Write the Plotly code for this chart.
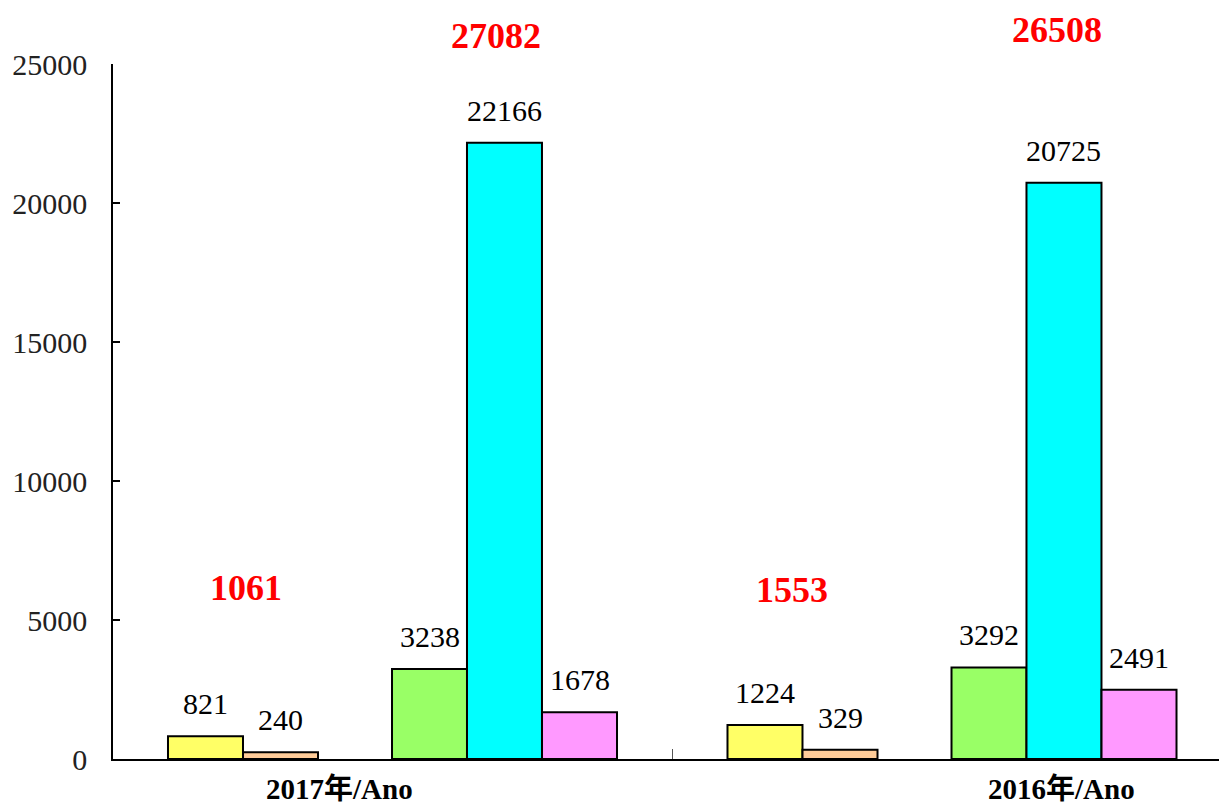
import plotly.graph_objects as go

# ---------------- data ----------------
years = ["2017年/Ano", "2016年/Ano"]
yellow_vals = [821, 1224]
orange_vals = [240, 329]
green_vals = [3238, 3292]
cyan_vals = [22166, 20725]
pink_vals = [1678, 2491]
small_totals = [1061, 1553]
large_totals = [27082, 26508]
y_ticks = [0, 5000, 10000, 15000, 20000, 25000]
y_tick_labels = ["0", "5000", "10000", "15000", "20000", "25000"]

# ---------------- layout constants ----------------
W, H = 1219, 807
ML, MR, MT, MB = 113, 0, 64, 48
plot_w = W - ML - MR
plot_h = H - MT - MB
cat_px = 559.5                      # pixel width of one year category
x_max = plot_w / cat_px
bar_w = 75 / cat_px
# bar centre offsets within a category (category units)
slot = {"yellow": 0.1653, "orange": 0.2994, "green": 0.5657, "cyan": 0.6997, "pink": 0.8338}
colors = {"yellow": "#FFFF66", "orange": "#FFCC99", "green": "#99FF66", "cyan": "#00FFFF", "pink": "#FF99FF"}
series = [("yellow", yellow_vals), ("orange", orange_vals), ("green", green_vals),
          ("cyan", cyan_vals), ("pink", pink_vals)]

# label placement (layout)
small_total_x = [0.2377, 0.2136]
small_total_ypx = [585, 587]
large_total_x = [0.6845, 0.687]
large_total_ypx = [33, 27]
year_label_x = [0.4057, 0.696]
year_label_bottom_px = 806

serif = "Liberation Serif, Times New Roman, Noto Sans CJK TC, serif"

def paper_y(ypx):
    return (H - MB - ypx) / plot_h

fig = go.Figure()
annotations = []
for name, vals in series:
    xs = [i + slot[name] for i in range(len(years))]
    fig.add_trace(go.Bar(
        x=xs, y=vals, width=[bar_w] * len(vals), name=name,
        marker=dict(color=colors[name], line=dict(color="black", width=2)),
        showlegend=False, hoverinfo="y",
    ))
    for x, v in zip(xs, vals):
        annotations.append(dict(x=x, y=v, xref="x", yref="y", text=str(v), showarrow=False,
                                yanchor="bottom", yshift=14,
                                font=dict(family=serif, size=30, color="black")))

for i in range(len(years)):
    annotations.append(dict(x=i + small_total_x[i], y=paper_y(small_total_ypx[i]) - 0.004,
                            xref="x", yref="paper", text=f"<b>{small_totals[i]}</b>",
                            showarrow=False, yanchor="middle",
                            font=dict(family=serif, size=36, color="#FF0000")))
    annotations.append(dict(x=i + large_total_x[i], y=paper_y(large_total_ypx[i]) - 0.004,
                            xref="x", yref="paper", text=f"<b>{large_totals[i]}</b>",
                            showarrow=False, yanchor="middle",
                            font=dict(family=serif, size=36, color="#FF0000")))
    annotations.append(dict(x=i + year_label_x[i], y=paper_y(year_label_bottom_px),
                            xref="x", yref="paper", text=f"<b>{years[i]}</b>",
                            showarrow=False, yanchor="bottom", borderpad=0,
                            font=dict(family=serif, size=29, color="black")))

fig.update_layout(
    width=W, height=H,
    margin=dict(l=ML, r=MR, t=MT, b=MB, pad=0),
    paper_bgcolor="white", plot_bgcolor="white",
    barmode="overlay",
    annotations=annotations,
    xaxis=dict(type="linear", range=[0, x_max], showgrid=False, zeroline=False,
               showline=True, linecolor="black", linewidth=1.5,
               tickvals=[1], ticks="inside", ticklen=10, tickcolor="#555555", tickwidth=1,
               showticklabels=False, fixedrange=True),
    yaxis=dict(range=[0, 25000], tickvals=y_ticks, ticktext=y_tick_labels,
               showgrid=False, zeroline=False,
               showline=True, linecolor="black", linewidth=1.5,
               ticks="inside", ticklen=7, tickcolor="black", tickwidth=1.5,
               ticklabelstandoff=18,
               tickfont=dict(family=serif, size=30, color="#222222"), fixedrange=True),
)

fig.write_html("out.html", config={"displayModeBar": False},
               post_script="document.body.style.margin='0';document.body.style.overflow='hidden';")
